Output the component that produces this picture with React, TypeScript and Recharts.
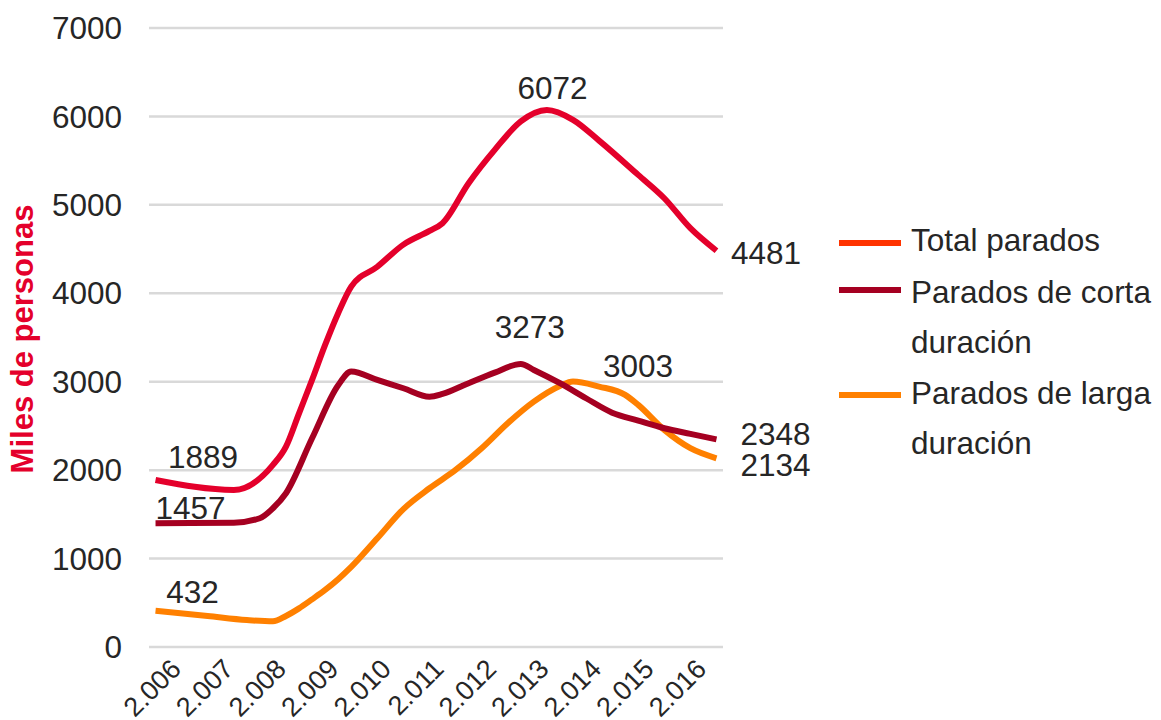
import React from 'react';
import { LineChart, Line, XAxis, YAxis, CartesianGrid, Legend } from 'recharts';

// ---- Data ----
const years = [2006, 2007, 2008, 2009, 2010, 2011, 2012, 2013, 2014, 2015, 2016];
const yearLabels = ['2.006', '2.007', '2.008', '2.009', '2.010', '2.011', '2.012', '2.013', '2.014', '2.015', '2.016'];
const yTicks = [0, 1000, 2000, 3000, 4000, 5000, 6000, 7000];

const seriesNames = ['Total parados', 'Parados de corta duración', 'Parados de larga duración'];

// time (fractional year, quarter centres) and values in thousands of people
const totalTime = [2006.125, 2007.625, 2008.375, 2008.625, 2008.875, 2009.125, 2009.375, 2009.625, 2009.875, 2010.375, 2010.875, 2011.375, 2011.625, 2012.125, 2012.625, 2013.125, 2013.625, 2014.125, 2014.625, 2015.375, 2015.875, 2016.375, 2016.875];
const totalValues = [1889, 1776, 2059, 2266, 2643, 3020, 3416, 3775, 4076, 4300, 4550, 4705, 4793, 5245, 5622, 5943, 6072, 5961, 5727, 5339, 5075, 4736, 4481];

const cortaTime = [2006.125, 2007.625, 2008.125, 2008.375, 2008.625, 2009.125, 2009.625, 2009.875, 2010.375, 2010.875, 2011.375, 2011.625, 2012.125, 2012.625, 2013.125, 2013.375, 2013.875, 2014.375, 2014.875, 2015.375, 2015.875, 2016.375, 2016.875];
const cortaValues = [1400, 1405, 1456, 1569, 1739, 2360, 2960, 3115, 3020, 2926, 2831, 2862, 2983, 3103, 3201, 3133, 2983, 2813, 2650, 2560, 2474, 2410, 2348];

const largaTime = [2006.125, 2007.125, 2007.875, 2008.375, 2008.625, 2008.875, 2009.125, 2009.375, 2009.625, 2009.875, 2010.375, 2010.875, 2011.375, 2011.875, 2012.375, 2012.875, 2013.375, 2013.875, 2014.125, 2014.625, 2015.125, 2015.375, 2015.875, 2016.375, 2016.875];
const largaValues = [411, 351, 305, 290, 351, 437, 539, 645, 766, 905, 1229, 1560, 1795, 2002, 2248, 2531, 2775, 2952, 3003, 2945, 2851, 2738, 2455, 2248, 2134];

// data label texts, by series and point index
const totalLabelIdx = [0, 16, 22];
const totalLabelTxt = ['1889', '6072', '4481'];
const cortaLabelIdx = [0, 14, 22];
const cortaLabelTxt = ['1457', '3273', '2348'];
const largaLabelIdx = [0, 18, 24];
const largaLabelTxt = ['432', '3003', '2134'];

// ---- Styles ----
const FONT = '"Liberation Sans", Arial, sans-serif';
const TEXT = '#262626';
const C_TOTAL = '#E4002B';
const C_TOTAL_LEGEND = '#FF3300';
const C_CORTA = '#A50021';
const C_LARGA = '#FF8000';
const GRID = '#D9D9D9';
const TICK_POS = 0.625;
const LINE_W = 6;

// label offsets (px) from the point, per series label order
const totalLabelOff = [[47.5, -23], [5.6, -21.6], [49.5, 2]];
const cortaLabelOff = [[35, -15], [9, -37], [59, -5]];
const largaLabelOff = [[37, -19], [65, -15], [59, 7]];

const toRows = (t: number[], v: number[]) => t.map((x, i) => ({ t: x, v: v[i] }));
const totalData = toRows(totalTime, totalValues);
const cortaData = toRows(cortaTime, cortaValues);
const largaData = toRows(largaTime, largaValues);

const makeLabel = (idx: number[], txt: string[], off: number[][]) => (props: any) => {
  const { x, y, index } = props;
  const k = idx.indexOf(index);
  if (k < 0 || x == null || y == null) return null;
  return (
    <text
      key={`lbl-${index}`}
      x={x + off[k][0]}
      y={y + off[k][1]}
      dy="0.35em"
      textAnchor="middle"
      fontFamily={FONT}
      fontSize={31.5}
      fill={TEXT}
    >
      {txt[k]}
    </text>
  );
};

const XTick = (props: any) => {
  const { x, y, payload } = props;
  const i = years.indexOf(Math.round(payload.value - TICK_POS));
  const ax = x + 1 + (i >= 0 ? i * 0.35 : 0);
  const ay = y + 23.5;
  return (
    <text
      x={ax}
      y={ay}
      transform={`rotate(-45, ${ax}, ${ay})`}
      textAnchor="end"
      fontFamily={FONT}
      fontSize={27}
      fill={TEXT}
    >
      {i >= 0 ? yearLabels[i] : ''}
    </text>
  );
};

const YLabel = () => (
  <text
    x={33}
    y={339}
    transform="rotate(-90, 33, 339)"
    textAnchor="middle"
    fontFamily={FONT}
    fontSize={31}
    fontWeight="bold"
    fill={C_TOTAL}
  >
    Miles de personas
  </text>
);

const LegendBox = () => {
  const swatchY = [33, 80, 185];
  const colors = [C_TOTAL_LEGEND, C_CORTA, C_LARGA];
  const lines: [string, number][] = [
    ['Total parados', 41],
    ['Parados de corta', 93],
    ['duración', 143],
    ['Parados de larga', 194],
    ['duración', 244],
  ];
  return (
    <svg width={322} height={265} style={{ overflow: 'visible' }}>
      {swatchY.map((sy, i) => (
        <line key={seriesNames[i]} x1={0} x2={62} y1={sy} y2={sy} stroke={colors[i]} strokeWidth={6} />
      ))}
      {lines.map(([s, by], i) => (
        <text key={i} x={72} y={by} fontFamily={FONT} fontSize={31.5} fill={TEXT}>
          {s}
        </text>
      ))}
    </svg>
  );
};

export default function App() {
  return (
    <div style={{ position: 'absolute', left: 0, top: 0, width: 1161, height: 720, background: '#fff' }}>
      <LineChart width={1161} height={720} margin={{ top: 28, right: 438, bottom: 43, left: 0 }}>
        <CartesianGrid vertical={false} stroke={GRID} strokeWidth={2.5} />
        <XAxis
          type="number"
          dataKey="t"
          domain={[2006, 2017]}
          ticks={years.map((y) => y + TICK_POS)}
          interval={0}
          height={30}
          axisLine={false}
          tickLine={false}
          tickSize={0}
          tickMargin={0}
          tick={<XTick />}
          allowDataOverflow
        />
        <YAxis
          type="number"
          domain={[0, 7000]}
          ticks={yTicks}
          interval={0}
          width={149}
          axisLine={false}
          tickLine={false}
          tickSize={0}
          tickMargin={27}
          tick={{ fontFamily: FONT, fontSize: 31.5, fill: TEXT }}
          label={<YLabel />}
        />
        <Legend
          layout="vertical"
          align="center"
          verticalAlign="middle"
          content={<LegendBox />}
          wrapperStyle={{ position: 'absolute', left: 839, top: 210, width: 322, height: 265 }}
        />
        <Line
          name={seriesNames[2]}
          data={largaData}
          dataKey="v"
          type="monotone"
          stroke={C_LARGA}
          strokeWidth={LINE_W}
          dot={false}
          isAnimationActive={false}
          label={makeLabel(largaLabelIdx, largaLabelTxt, largaLabelOff)}
        />
        <Line
          name={seriesNames[1]}
          data={cortaData}
          dataKey="v"
          type="monotone"
          stroke={C_CORTA}
          strokeWidth={LINE_W}
          dot={false}
          isAnimationActive={false}
          label={makeLabel(cortaLabelIdx, cortaLabelTxt, cortaLabelOff)}
        />
        <Line
          name={seriesNames[0]}
          data={totalData}
          dataKey="v"
          type="monotone"
          stroke={C_TOTAL}
          strokeWidth={LINE_W}
          dot={false}
          isAnimationActive={false}
          label={makeLabel(totalLabelIdx, totalLabelTxt, totalLabelOff)}
        />
      </LineChart>
    </div>
  );
}
